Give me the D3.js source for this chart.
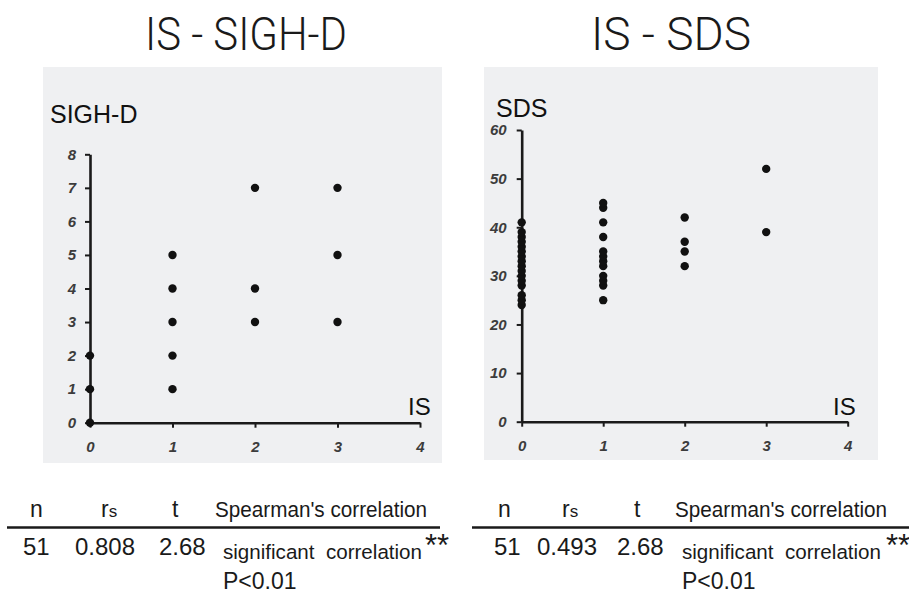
<!DOCTYPE html>
<html lang="en">
<head>
    <meta charset="UTF-8">
    <title>IS correlations | D3</title>
    <style>
        body { margin: 0; background: #fff; }
        svg text { font-family: "Liberation Sans", Arial, sans-serif; white-space: pre; }
    </style>
</head>
<body>
    <div class="graph-container"></div>

    <script type="text/javascript" src="https://d3js.org/d3.v7.min.js"></script>
    <script type="text/javascript">
        // IS score on x, depression scale on y
        var sighX = [0, 0, 0, 1, 1, 1, 1, 1, 2, 2, 2, 3, 3, 3];
        var sighY = [0, 1, 2, 1, 2, 3, 4, 5, 3, 4, 7, 3, 5, 7];

        var sdsX = [0, 0, 0, 0, 0, 0, 0, 0, 0, 0, 0, 0, 0, 0, 0, 0,
                    1, 1, 1, 1, 1, 1, 1, 1, 1, 1, 1, 1,
                    2, 2, 2, 2,
                    3, 3];
        var sdsY = [24, 25, 26, 28, 29, 30, 31, 32, 33, 34, 35, 36, 37, 38, 39, 41,
                    25, 28, 29, 30, 32, 33, 34, 35, 38, 41, 44, 45,
                    32, 35, 37, 42,
                    39, 52];

        var xTicks = [0, 1, 2, 3, 4];
        var sighTicks = [0, 1, 2, 3, 4, 5, 6, 7, 8];
        var sdsTicks = [0, 10, 20, 30, 40, 50, 60];

        var titles = ["IS - SIGH-D", "IS - SDS"];
        var yLabels = ["SIGH-D", "SDS"];
        var statHeaders = ["n", "r", "t", "Spearman's correlation"];
        var sighStats = ["51", "0.808", "2.68"];
        var sdsStats = ["51", "0.493", "2.68"];
        var verdict = "significant  correlation";
        var pValue = "P<0.01";

        var svg = d3.select(".graph-container")
            .append("svg")
            .attr("width", 909)
            .attr("height", 597);

        // panel layouts (pixels)
        var panels = [
            {
                bg: [43, 67, 399, 396], x0: 90, x1: 420, y0: 422.7, y1: 154.3,
                xs: sighX, ys: sighY, yMax: 8, yTicks: sighTicks, yPad: 9,
                title: titles[0], titleX: 246, titleW: 202,
                yLabel: yLabels[0], yLabelX: 50, yLabelY: 122.5,
                isX: 408
            },
            {
                bg: [484, 67, 394, 393], x0: 521.7, x1: 847.7, y0: 421.7, y1: 130,
                xs: sdsX, ys: sdsY, yMax: 60, yTicks: sdsTicks, yPad: 10,
                title: titles[1], titleX: 671, titleW: 160,
                yLabel: yLabels[1], yLabelX: 496, yLabelY: 116.5,
                isX: 833
            }
        ];

        panels.forEach(function(p) {
            svg.append("rect")
                .attr("x", p.bg[0]).attr("y", p.bg[1])
                .attr("width", p.bg[2]).attr("height", p.bg[3])
                .attr("fill", "#eff0f2");

            svg.append("text")
                .attr("x", p.titleX).attr("y", 50)
                .attr("text-anchor", "middle")
                .attr("textLength", p.titleW)
                .attr("lengthAdjust", "spacingAndGlyphs")
                .style("font-family", "Roboto, 'Liberation Sans', sans-serif")
                .style("font-weight", "300")
                .style("font-size", "46px")
                .attr("fill", "#1a1a1a")
                .text(p.title);

            var x = d3.scaleLinear().domain([0, 4]).range([p.x0, p.x1]);
            var y = d3.scaleLinear().domain([0, p.yMax]).range([p.y0, p.y1]);

            var xAxis = d3.axisBottom(x).tickValues(xTicks).tickFormat(d3.format("d"))
                .tickSize(5).tickSizeOuter(0).tickPadding(14);
            var yAxis = d3.axisLeft(y).tickValues(p.yTicks).tickFormat(d3.format("d"))
                .tickSize(5).tickSizeOuter(0).tickPadding(p.yPad);

            var gx = svg.append("g")
                .attr("transform", "translate(0," + p.y0 + ")")
                .call(xAxis);
            var gy = svg.append("g")
                .attr("transform", "translate(" + p.x0 + ",0)")
                .call(yAxis);

            [gx, gy].forEach(function(g) {
                g.select(".domain").attr("stroke", "#1a1a1a").attr("stroke-width", 2.6);
                g.selectAll(".tick line").attr("stroke", "#1a1a1a").attr("stroke-width", 2);
                g.selectAll(".tick text")
                    .attr("fill", "#3c3c3c")
                    .style("font-size", "15px")
                    .style("font-weight", "bold")
                    .style("font-style", "italic");
            });

            svg.append("text")
                .attr("x", p.yLabelX).attr("y", p.yLabelY)
                .style("font-size", "25px")
                .attr("fill", "#111")
                .text(p.yLabel);

            svg.append("text")
                .attr("x", p.isX).attr("y", 415)
                .style("font-size", "24px")
                .attr("fill", "#111")
                .text("IS");

            svg.append("g")
                .selectAll("circle")
                .data(p.ys)
                .enter()
                    .append("circle")
                    .attr("cx", function(d, i) { return x(p.xs[i]); })
                    .attr("cy", function(d) { return y(d); })
                    .attr("r", 4.2)
                    .attr("fill", "#111");
        });

        // statistics tables under each chart
        var tables = [
            { stats: sighStats, hx: [30, 101, 172, 215], vx: [23, 75, 159],
              tx: 223, lineX: [7, 440], starX: 425 },
            { stats: sdsStats, hx: [498, 562, 634, 675], vx: [494, 537, 617],
              tx: 682, lineX: [472, 909], starX: 886 }
        ];

        tables.forEach(function(tb) {
            var g = svg.append("g").attr("fill", "#1a1a1a");

            statHeaders.forEach(function(h, i) {
                var t = g.append("text")
                    .attr("x", tb.hx[i]).attr("y", 517)
                    .style("font-size", "23px");
                if (h === "r") {
                    t.append("tspan").text("r");
                    t.append("tspan").style("font-size", "17px").text("s");
                } else if (h.length > 1) {
                    // long header is set a little condensed
                    t.style("font-size", "21.5px")
                        .attr("textLength", 212)
                        .attr("lengthAdjust", "spacingAndGlyphs")
                        .text(h);
                } else {
                    t.text(h);
                }
            });

            g.append("line")
                .attr("x1", tb.lineX[0]).attr("x2", tb.lineX[1])
                .attr("y1", 527.5).attr("y2", 527.5)
                .attr("stroke", "#1a1a1a").attr("stroke-width", 2.4);

            tb.stats.forEach(function(s, i) {
                g.append("text")
                    .attr("x", tb.vx[i]).attr("y", 555)
                    .style("font-size", "24px")
                    .text(s);
            });

            g.append("text")
                .attr("x", tb.tx).attr("y", 559)
                .attr("textLength", 199)
                .attr("lengthAdjust", "spacingAndGlyphs")
                .style("font-size", "20.5px")
                .text(verdict);

            g.append("text")
                .attr("x", tb.starX).attr("y", 556)
                .style("font-size", "31px")
                .text("**");

            g.append("text")
                .attr("x", tb.tx).attr("y", 588.5)
                .style("font-size", "23px")
                .text(pValue);
        });
    </script>
</body>
</html>
